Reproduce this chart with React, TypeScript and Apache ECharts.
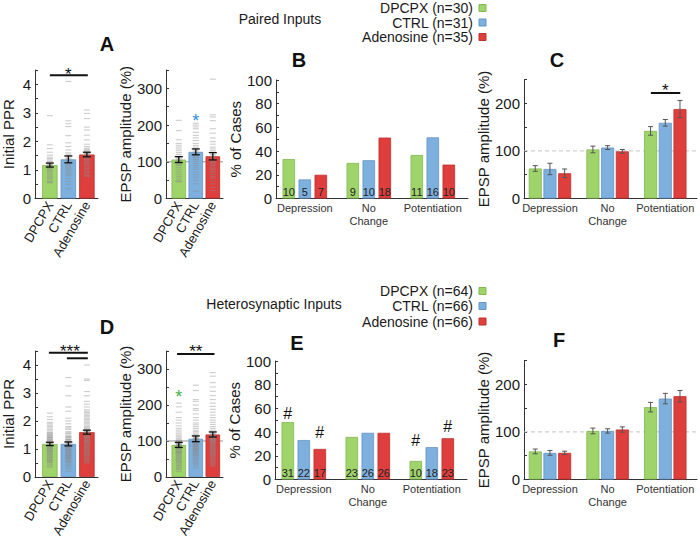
import React, { useEffect, useRef } from "react";
import * as echarts from "echarts";

const FONT = "'Liberation Sans', Arial, Helvetica, sans-serif";
const TXT = "#1a1a1a";

const groupNames = ["DPCPX", "CTRL", "Adenosine"];
const outcomeNames = ["Depression", "No\nChange", "Potentiation"];
const barColors = ["#9ed46a", "#7db0de", "#de3e3c"];
const barBorders = ["#82b852", "#6396c4", "#bf302e"];

const pairedN = [30, 31, 35];
const heteroN = [64, 66, 66];

// ---- Paired inputs: initial PPR (A, left) ----
const pairedPprMean = [1.17, 1.37, 1.54];
const pairedPprSem = [0.07, 0.12, 0.08];
const pairedPprDPCPX = [2.9, 1.88, 1.75, 1.62, 1.52, 1.45, 1.4, 1.35, 1.3, 1.27, 1.24, 1.2, 1.17, 1.14, 1.11, 1.08, 1.05, 1.02, 0.98, 0.95, 0.9, 0.86, 0.82, 0.78, 0.74, 0.7, 0.65, 0.6, 0.57, 0.55];
const pairedPprCTRL = [4.1, 2.72, 2.62, 2.52, 2.2, 1.95, 1.82, 1.7, 1.6, 1.55, 1.5, 1.45, 1.4, 1.36, 1.32, 1.28, 1.24, 1.2, 1.16, 1.12, 1.08, 1.04, 1.0, 0.95, 0.9, 0.85, 0.8, 0.7, 0.6, 0.5, 0.35];
const pairedPprAdenosine = [3.1, 2.98, 2.8, 2.5, 2.4, 2.22, 2.05, 1.9, 1.82, 1.76, 1.72, 1.68, 1.64, 1.6, 1.56, 1.52, 1.48, 1.44, 1.4, 1.36, 1.32, 1.28, 1.24, 1.2, 1.15, 1.1, 1.05, 1.0, 0.95, 0.9, 0.85, 0.8, 0.78, 1.58, 1.46];

// ---- Paired inputs: EPSP amplitude (A, right) ----
const pairedAmpMean = [106, 127, 115];
const pairedAmpSem = [8, 8, 10];
const pairedAmpDPCPX = [213, 185, 160, 150, 145, 140, 135, 130, 125, 120, 115, 112, 108, 105, 102, 100, 98, 95, 92, 90, 85, 80, 75, 70, 65, 60, 55, 50, 47, 45];
const pairedAmpCTRL = [205, 200, 195, 190, 180, 172, 165, 158, 150, 145, 140, 135, 130, 126, 122, 118, 115, 112, 108, 105, 100, 95, 90, 85, 80, 72, 65, 58, 50, 40, 20];
const pairedAmpAdenosine = [325, 228, 222, 212, 190, 178, 165, 155, 148, 140, 135, 130, 125, 120, 116, 112, 108, 105, 102, 100, 97, 94, 90, 86, 82, 78, 74, 70, 65, 60, 55, 48, 40, 30, 22];

// ---- Paired inputs: % of cases (B) ----
const pairedPctDPCPX = [33.3, 30.0, 36.7];
const pairedPctCTRL = [16.1, 32.3, 51.6];
const pairedPctAdenosine = [20.0, 51.4, 28.6];
const pairedCountDPCPX = [10, 9, 11];
const pairedCountCTRL = [5, 10, 16];
const pairedCountAdenosine = [7, 18, 10];

// ---- Paired inputs: EPSP amplitude by outcome (C) ----
const pairedOutDPCPX = [63, 103, 142];
const pairedOutDPCPXSem = [6, 7, 9];
const pairedOutCTRL = [62, 107, 159];
const pairedOutCTRLSem = [12, 4, 7];
const pairedOutAdenosine = [53, 99, 188];
const pairedOutAdenosineSem = [9, 4, 18];

// ---- Heterosynaptic: initial PPR (D, left) ----
const heteroPprMean = [1.18, 1.18, 1.6];
const heteroPprSem = [0.06, 0.07, 0.07];
const heteroPprDPCPX = [2.28, 2.15, 2.05, 1.95, 1.9, 1.85, 1.8, 1.75, 1.7, 1.65, 1.6, 1.58, 1.55, 1.52, 1.5, 1.48, 1.45, 1.42, 1.4, 1.38, 1.35, 1.33, 1.3, 1.28, 1.25, 1.23, 1.2, 1.18, 1.15, 1.13, 1.1, 1.08, 1.05, 1.03, 1.0, 0.98, 0.95, 0.93, 0.9, 0.88, 0.85, 0.83, 0.8, 0.78, 0.75, 0.72, 0.7, 0.68, 0.65, 0.62, 0.6, 0.58, 0.55, 0.52, 0.5, 0.45, 0.4, 0.35, 1.22, 1.12, 1.02, 0.92, 1.32, 1.42];
const heteroPprCTRL = [3.55, 3.25, 2.9, 2.5, 2.35, 2.1, 2.0, 1.9, 1.8, 1.75, 1.7, 1.62, 1.58, 1.55, 1.5, 1.46, 1.42, 1.4, 1.36, 1.33, 1.3, 1.27, 1.24, 1.21, 1.18, 1.15, 1.12, 1.1, 1.07, 1.05, 1.02, 1.0, 0.98, 0.95, 0.93, 0.9, 0.88, 0.85, 0.82, 0.8, 0.78, 0.75, 0.72, 0.7, 0.68, 0.65, 0.62, 0.6, 0.57, 0.55, 0.52, 0.5, 0.45, 0.4, 0.35, 0.28, 0.2, 1.08, 1.16, 1.26, 0.96, 0.86, 1.34, 1.44, 0.76, 0.66];
const heteroPprAdenosine = [4.0, 3.5, 3.45, 3.05, 2.9, 2.7, 2.6, 2.5, 2.4, 2.35, 2.3, 2.25, 2.2, 2.15, 2.1, 2.05, 2.0, 1.95, 1.9, 1.85, 1.8, 1.76, 1.72, 1.68, 1.65, 1.62, 1.58, 1.55, 1.52, 1.5, 1.47, 1.44, 1.41, 1.38, 1.35, 1.32, 1.3, 1.27, 1.24, 1.21, 1.18, 1.15, 1.12, 1.1, 1.07, 1.04, 1.01, 0.98, 0.95, 0.92, 0.89, 0.86, 0.83, 0.8, 0.77, 0.74, 0.7, 0.66, 0.62, 0.58, 0.54, 0.5, 1.6, 1.7, 1.4, 1.26];

// ---- Heterosynaptic: EPSP amplitude (D, right) ----
const heteroAmpMean = [89, 106, 118];
const heteroAmpSem = [7, 8, 7];
const heteroAmpDPCPX = [205, 195, 180, 165, 158, 150, 142, 135, 130, 125, 120, 116, 112, 108, 105, 102, 100, 98, 96, 94, 92, 90, 88, 86, 84, 82, 80, 78, 76, 74, 72, 70, 68, 66, 64, 62, 60, 58, 56, 54, 52, 50, 48, 46, 44, 42, 40, 38, 35, 32, 30, 27, 25, 22, 20, 15, 91, 87, 83, 79, 95, 99, 71, 67];
const heteroAmpCTRL = [255, 240, 215, 210, 200, 190, 185, 175, 165, 158, 150, 145, 140, 135, 130, 126, 122, 118, 115, 112, 110, 108, 106, 104, 102, 100, 98, 96, 94, 92, 90, 88, 86, 84, 82, 80, 78, 76, 74, 72, 70, 68, 66, 64, 62, 60, 58, 55, 52, 50, 47, 44, 41, 38, 35, 30, 25, 107, 103, 99, 95, 91, 87, 83, 79, 75];
const heteroAmpAdenosine = [290, 280, 262, 250, 238, 226, 215, 205, 196, 188, 180, 172, 165, 158, 152, 146, 140, 135, 130, 126, 122, 118, 115, 112, 110, 108, 106, 104, 102, 100, 98, 96, 94, 92, 90, 88, 86, 84, 82, 80, 78, 76, 74, 72, 70, 68, 66, 64, 62, 60, 57, 54, 51, 48, 45, 42, 39, 36, 33, 30, 119, 113, 109, 105, 101, 97];

// ---- Heterosynaptic: % of cases (E) ----
const heteroPctDPCPX = [48.4, 35.9, 15.6];
const heteroPctCTRL = [33.3, 39.4, 27.3];
const heteroPctAdenosine = [25.8, 39.4, 34.8];
const heteroCountDPCPX = [31, 23, 10];
const heteroCountCTRL = [22, 26, 18];
const heteroCountAdenosine = [17, 26, 23];

// ---- Heterosynaptic: EPSP amplitude by outcome (F) ----
const heteroOutDPCPX = [59, 102, 152];
const heteroOutDPCPXSem = [5, 6, 10];
const heteroOutCTRL = [56, 102, 170];
const heteroOutCTRLSem = [5, 4.5, 11];
const heteroOutAdenosine = [56, 105, 175];
const heteroOutAdenosineSem = [3.5, 5.5, 12];

function isMult(v: number, m: number) {
  const r = v / m;
  return Math.abs(r - Math.round(r)) < 1e-6;
}

function yAxis(gi: number, max: number, interval: number, labelEvery: number, name: string, nameGap: number) {
  return {
    type: "value", gridIndex: gi, min: 0, max, interval, name, nameLocation: "middle", nameGap,
    nameTextStyle: { fontSize: 15, color: TXT, fontFamily: FONT },
    axisLine: { show: true, onZero: false, lineStyle: { color: "#333", width: 1 } },
    axisTick: { show: true, inside: true, length: 3, lineStyle: { color: "#333" } },
    splitLine: { show: false },
    axisLabel: { fontSize: 15, color: TXT, margin: 4, fontFamily: FONT,
      formatter: (v: number) => (isMult(v, labelEvery) ? String(Math.round(v)) : "") },
  };
}

function xAxisGroups(gi: number, min: number, max: number) {
  return {
    type: "value", gridIndex: gi, min, max, interval: 0.05,
    splitLine: { show: false }, axisTick: { show: false },
    axisLine: { show: true, onZero: false, lineStyle: { color: "#333", width: 1 } },
    axisLabel: { rotate: 60, margin: 4, fontSize: 13, color: TXT, fontFamily: FONT,
      formatter: (v: number) => (isMult(v, 1) && v >= 1 && v <= 3 ? groupNames[Math.round(v) - 1] : "") },
  };
}

function xAxisOutcomes(gi: number, min: number, max: number) {
  return {
    type: "value", gridIndex: gi, min, max, interval: 0.05,
    splitLine: { show: false }, axisTick: { show: false },
    axisLine: { show: true, onZero: false, lineStyle: { color: "#333", width: 1 } },
    axisLabel: { margin: 3, fontSize: 11, lineHeight: 13, color: "#333", fontFamily: FONT,
      formatter: (v: number) => (isMult(v, 1) && v >= 1 && v <= 3 ? outcomeNames[Math.round(v) - 1] : "") },
  };
}

function simpleBars(gi: number, means: number[], bw: number) {
  return {
    type: "bar", xAxisIndex: gi, yAxisIndex: gi, barWidth: bw, z: 2, silent: true,
    data: means.map((m, k) => ({ value: [k + 1, m], itemStyle: { color: barColors[k], borderColor: barBorders[k], borderWidth: 0.8 } })),
  };
}

function dashes(gi: number, pts: number[][], w: number) {
  const data: number[][] = [];
  pts.forEach((arr, g) => arr.forEach((v) => data.push([g + 1, v])));
  return {
    type: "scatter", xAxisIndex: gi, yAxisIndex: gi, z: 3, silent: true,
    symbol: "rect", symbolSize: [w, 1.1], itemStyle: { color: "rgba(140,140,140,0.55)" }, data,
  };
}

function errBars(gi: number, xs: number[], means: number[], sems: number[], color: string, cap: number, lw: number) {
  return {
    type: "custom", xAxisIndex: gi, yAxisIndex: gi, z: 5, silent: true,
    data: xs.map((x, k) => [x, means[k] - sems[k], means[k] + sems[k]]),
    encode: { x: 0, y: [1, 2] },
    renderItem: (_p: any, api: any) => {
      const x = api.value(0);
      const a = api.coord([x, api.value(1)]);
      const b = api.coord([x, api.value(2)]);
      const st = { stroke: color, lineWidth: lw };
      return {
        type: "group",
        children: [
          { type: "line", shape: { x1: a[0], y1: a[1], x2: b[0], y2: b[1] }, style: st },
          { type: "line", shape: { x1: a[0] - cap, y1: a[1], x2: a[0] + cap, y2: a[1] }, style: st },
          { type: "line", shape: { x1: b[0] - cap, y1: b[1], x2: b[0] + cap, y2: b[1] }, style: st },
        ],
      };
    },
  };
}

function hLines(gi: number, lines: number[][], color: string, lw: number, dashed: boolean, z: number) {
  return {
    type: "custom", xAxisIndex: gi, yAxisIndex: gi, z, silent: true,
    data: lines, encode: { x: [0, 1], y: 2 },
    renderItem: (_p: any, api: any) => {
      const a = api.coord([api.value(0), api.value(2)]);
      const b = api.coord([api.value(1), api.value(2)]);
      return { type: "line", shape: { x1: a[0], y1: a[1], x2: b[0], y2: b[1] },
        style: { stroke: color, lineWidth: lw, lineDash: dashed ? [4, 3] : null } };
    },
  };
}

function textMarks(gi: number, marks: { x: number; y: number; t: string; c: string; s: number }[]) {
  return {
    type: "custom", xAxisIndex: gi, yAxisIndex: gi, z: 6, silent: true,
    data: marks.map((m) => [m.x, m.y]), encode: { x: 0, y: 1 },
    renderItem: (p: any, api: any) => {
      const m = marks[p.dataIndex];
      const pt = api.coord([api.value(0), api.value(1)]);
      return { type: "text", x: pt[0], y: pt[1],
        style: { text: m.t, fill: m.c, font: `${m.s}px ${FONT}`, align: "center", verticalAlign: "middle" } };
    },
  };
}

function groupedBars(gi: number, vals: number[][], off: number, bw: number, counts?: number[][]) {
  const data: any[] = [];
  const labels: number[] = [];
  for (let g = 0; g < 3; g++) {
    for (let c = 0; c < 3; c++) {
      data.push({ value: [c + 1 + (g - 1) * off, vals[g][c]], itemStyle: { color: barColors[g], borderColor: barBorders[g], borderWidth: 0.8 } });
      labels.push(counts ? counts[g][c] : 0);
    }
  }
  return {
    type: "bar", xAxisIndex: gi, yAxisIndex: gi, barWidth: bw, z: 2, silent: true, data,
    label: counts
      ? { show: true, position: "insideBottom", distance: 1, fontSize: 11, color: "#222", fontFamily: FONT,
          formatter: (p: any) => String(labels[p.dataIndex]) }
      : { show: false },
  };
}

function groupedErr(gi: number, vals: number[][], sems: number[][], off: number) {
  const xs: number[] = [], ms: number[] = [], ss: number[] = [];
  for (let g = 0; g < 3; g++) for (let c = 0; c < 3; c++) {
    xs.push(c + 1 + (g - 1) * off); ms.push(vals[g][c]); ss.push(sems[g][c]);
  }
  return errBars(gi, xs, ms, ss, "#555", 2.5, 1);
}

function buildOption() {
  const grids = [
    { left: 35, top: 70, width: 63, height: 128.5 },
    { left: 166, top: 70, width: 57, height: 128.5 },
    { left: 276, top: 80, width: 192, height: 118.5 },
    { left: 524, top: 79.5, width: 177, height: 119 },
    { left: 35, top: 351, width: 63, height: 128.5 },
    { left: 166, top: 351, width: 57, height: 128.5 },
    { left: 275, top: 361, width: 192, height: 118.5 },
    { left: 524, top: 360.5, width: 177, height: 119 },
  ];
  const xAxes = [
    xAxisGroups(0, 0.2, 3.6), xAxisGroups(1, 0.25, 3.6), xAxisOutcomes(2, 0.55, 3.55), xAxisOutcomes(3, 0.55, 3.55),
    xAxisGroups(4, 0.2, 3.6), xAxisGroups(5, 0.25, 3.6), xAxisOutcomes(6, 0.55, 3.55), xAxisOutcomes(7, 0.55, 3.55),
  ];
  const yAxes = [
    yAxis(0, 4.5, 0.5, 1, "Initial PPR", 19),
    yAxis(1, 350, 50, 100, "EPSP amplitude (%)", 33),
    yAxis(2, 100, 10, 20, "% of Cases", 21),
    yAxis(3, 250, 50, 100, "EPSP amplitude (%)", 28),
    yAxis(4, 4.5, 0.5, 1, "Initial PPR", 19),
    yAxis(5, 350, 50, 100, "EPSP amplitude (%)", 33),
    yAxis(6, 100, 10, 20, "% of Cases", 21),
    yAxis(7, 250, 50, 100, "EPSP amplitude (%)", 28),
  ];

  const offBE = 0.25, offCF = 0.255;
  const series: any[] = [
    // A left
    simpleBars(0, pairedPprMean, 15.5),
    dashes(0, [pairedPprDPCPX, pairedPprCTRL, pairedPprAdenosine], 6),
    errBars(0, [1, 2, 3], pairedPprMean, pairedPprSem, "#111", 4, 1.3),
    hLines(0, [[1.0, 3.05, 4.32]], "#111", 2, false, 6),
    textMarks(0, [{ x: 2, y: 4.33, t: "*", c: "#111", s: 17 }]),
    // A right
    hLines(1, [[0.25, 3.6, 100]], "#999", 1, false, 1),
    simpleBars(1, pairedAmpMean, 14.5),
    dashes(1, [pairedAmpDPCPX, pairedAmpCTRL, pairedAmpAdenosine], 6),
    errBars(1, [1, 2, 3], pairedAmpMean, pairedAmpSem, "#111", 4, 1.3),
    textMarks(1, [{ x: 2, y: 211, t: "*", c: "#2f8fd8", s: 18 }]),
    // B
    groupedBars(2, [pairedPctDPCPX, pairedPctCTRL, pairedPctAdenosine], offBE, 12.5,
      [pairedCountDPCPX, pairedCountCTRL, pairedCountAdenosine]),
    // C
    hLines(3, [[0.55, 3.55, 100]], "#c4c4c4", 1, true, 1),
    groupedBars(3, [pairedOutDPCPX, pairedOutCTRL, pairedOutAdenosine], offCF, 13),
    groupedErr(3, [pairedOutDPCPX, pairedOutCTRL, pairedOutAdenosine], [pairedOutDPCPXSem, pairedOutCTRLSem, pairedOutAdenosineSem], offCF),
    hLines(3, [[2.75, 3.26, 221.6]], "#111", 2, false, 6),
    textMarks(3, [{ x: 3.0, y: 226, t: "*", c: "#111", s: 17 }]),
    // D left
    simpleBars(4, heteroPprMean, 15.5),
    dashes(4, [heteroPprDPCPX, heteroPprCTRL, heteroPprAdenosine], 6),
    errBars(4, [1, 2, 3], heteroPprMean, heteroPprSem, "#111", 4, 1.3),
    hLines(4, [[0.95, 3.05, 4.44], [1.92, 3.05, 4.24]], "#111", 2, false, 6),
    textMarks(4, [{ x: 2.08, y: 4.5, t: "***", c: "#111", s: 17 }]),
    // D right
    hLines(5, [[0.25, 3.6, 100]], "#999", 1, false, 1),
    simpleBars(5, heteroAmpMean, 14.5),
    dashes(5, [heteroAmpDPCPX, heteroAmpCTRL, heteroAmpAdenosine], 6),
    errBars(5, [1, 2, 3], heteroAmpMean, heteroAmpSem, "#111", 4, 1.3),
    hLines(5, [[0.9, 3.1, 342]], "#111", 2, false, 6),
    textMarks(5, [{ x: 1, y: 222, t: "*", c: "#46b04a", s: 18 }, { x: 2, y: 348, t: "**", c: "#111", s: 17 }]),
    // E
    groupedBars(6, [heteroPctDPCPX, heteroPctCTRL, heteroPctAdenosine], offBE, 12.5,
      [heteroCountDPCPX, heteroCountCTRL, heteroCountAdenosine]),
    textMarks(6, [
      { x: 0.75, y: 55.9, t: "#", c: "#111", s: 16 },
      { x: 1.25, y: 39.8, t: "#", c: "#111", s: 16 },
      { x: 2.75, y: 33.3, t: "#", c: "#111", s: 16 },
      { x: 3.25, y: 44.6, t: "#", c: "#111", s: 16 },
    ]),
    // F
    hLines(7, [[0.55, 3.55, 100]], "#c4c4c4", 1, true, 1),
    groupedBars(7, [heteroOutDPCPX, heteroOutCTRL, heteroOutAdenosine], offCF, 13),
    groupedErr(7, [heteroOutDPCPX, heteroOutCTRL, heteroOutAdenosine], [heteroOutDPCPXSem, heteroOutCTRLSem, heteroOutAdenosineSem], offCF),
  ];

  const title = (t: string, x: number, y: number) => ({
    type: "text", x, y, style: { text: t, fill: "#111", font: `bold 20px ${FONT}`, align: "center", verticalAlign: "middle" },
  });
  const txt = (t: string, x: number, y: number, align: string) => ({
    type: "text", x, y, style: { text: t, fill: TXT, font: `14px ${FONT}`, align, verticalAlign: "middle" },
  });
  const sq = (x: number, y: number, k: number) => ({
    type: "rect", shape: { x, y: y - 3.5, width: 7, height: 7 },
    style: { fill: barColors[k], stroke: barBorders[k], lineWidth: 1 },
  });
  const legendTop = [8, 22.5, 37];
  const legendBot = [291, 306, 321.5];
  const graphic: any[] = [
    title("A", 107, 44), title("B", 299, 60), title("C", 557, 60),
    title("D", 107, 327), title("E", 297, 343), title("F", 559, 340),
    txt("Paired Inputs", 280, 19, "center"),
    txt("Heterosynaptic Inputs", 274, 304, "center"),
  ];
  for (let k = 0; k < 3; k++) {
    graphic.push(txt(`${groupNames[k]} (n=${pairedN[k]})`, 473, legendTop[k], "right"));
    graphic.push(sq(479, legendTop[k], k));
    graphic.push(txt(`${groupNames[k]} (n=${heteroN[k]})`, 473, legendBot[k], "right"));
    graphic.push(sq(479, legendBot[k], k));
  }

  return {
    animation: false,
    backgroundColor: "#ffffff",
    textStyle: { fontFamily: FONT },
    grid: grids,
    xAxis: xAxes,
    yAxis: yAxes,
    series,
    graphic,
  };
}

export default function App() {
  const ref = useRef<HTMLDivElement>(null);
  useEffect(() => {
    const chart = echarts.init(ref.current as HTMLDivElement, null, { renderer: "svg" });
    chart.setOption(buildOption() as any);
    return () => chart.dispose();
  }, []);
  return <div ref={ref} style={{ position: "fixed", left: 0, top: 0, width: 700, height: 540, background: "#fff" }} />;
}
